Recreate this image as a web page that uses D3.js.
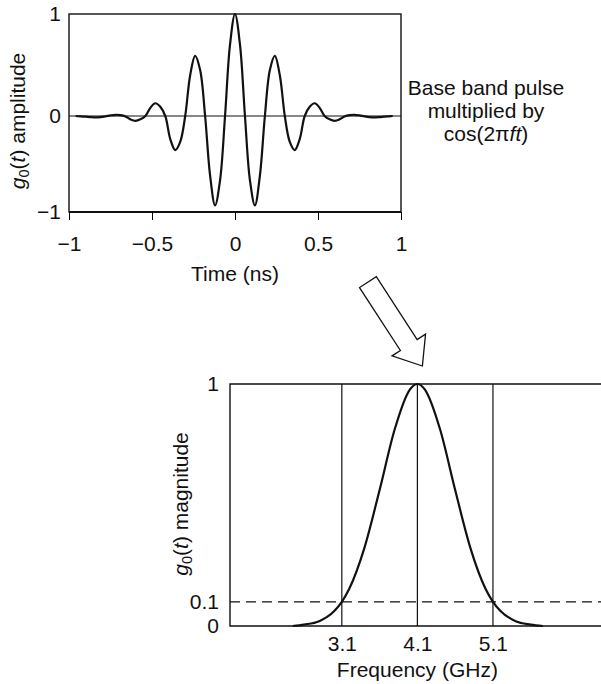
<!DOCTYPE html>
<html>
<head>
<meta charset="utf-8">
<script src="https://cdn.jsdelivr.net/npm/d3@7"></script>
<style>
    body { margin: 0; background: #fff; }
    svg text { font-family: "Liberation Sans", Arial, Helvetica, sans-serif; fill: #111; }
    .domain { display: none; }
</style>
</head>
<body>
<div id="chart"></div>
<script>
//Data
var timeNs = [-0.96, -0.93, -0.90, -0.87, -0.84, -0.81, -0.78, -0.75, -0.72, -0.69, -0.66, -0.63,
    -0.60, -0.57, -0.54, -0.51, -0.48, -0.45, -0.42, -0.39, -0.36, -0.33, -0.30, -0.27, -0.24,
    -0.21, -0.18, -0.15, -0.12, -0.09, -0.06, -0.03, 0, 0.03, 0.06, 0.09, 0.12, 0.15, 0.18, 0.21,
    0.24, 0.27, 0.30, 0.33, 0.36, 0.39, 0.42, 0.45, 0.48, 0.51, 0.54, 0.57, 0.60, 0.63, 0.66,
    0.69, 0.72, 0.75, 0.78, 0.81, 0.84, 0.87, 0.90, 0.93, 0.95];
var amplitude = [0, -0.003, -0.007, -0.012, -0.015, -0.012, -0.004, 0.006, 0.012, 0.008, -0.005, -0.035,
    -0.05, -0.035, 0, 0.08, 0.125, 0.09, 0, -0.24, -0.355, -0.27, 0, 0.40, 0.59,
    0.45, 0, -0.62, -0.93, -0.67, 0, 0.70, 1.00, 0.70, 0, -0.67, -0.93, -0.62, 0, 0.45,
    0.59, 0.40, 0, -0.27, -0.355, -0.24, 0, 0.09, 0.125, 0.08, 0, -0.035, -0.05, -0.035, -0.005,
    0.008, 0.012, 0.006, -0.004, -0.012, -0.015, -0.012, -0.007, -0.003, 0];

var freqGHz = [2.45, 2.6, 2.8, 3.0, 3.1, 3.2, 3.4, 3.6, 3.8, 4.0, 4.1, 4.2, 4.4, 4.6, 4.8, 5.0, 5.1, 5.2, 5.4, 5.6, 5.76];
var magnitude = [0, 0.006, 0.02, 0.062, 0.10, 0.155, 0.324, 0.562, 0.813, 0.977, 1.0, 0.977, 0.813, 0.562, 0.324, 0.155, 0.10, 0.062, 0.02, 0.006, 0];

var timeTicks = [-1, -0.5, 0, 0.5, 1];
var ampTicks = [-1, 0, 1];
var freqTicks = [3.1, 4.1, 5.1];
var magTicks = [0, 0.1, 1];

var svgWidth = 601;
var svgHeight = 684;
var fontSize = 21;

var svg = d3.select("#chart").append("svg")
    .attr("width", svgWidth)
    .attr("height", svgHeight);

var minusFmt = d => String(d).replace("-", "\u2212");

// ---------- Top chart: time domain pulse ----------
var topBox = { left: 69, right: 401, top: 14, bottom: 212 };

var xTime = d3.scaleLinear().domain([-1, 1]).range([topBox.left, topBox.right]);
// zero line sits a little below the middle of the frame
var yAmp = d3.scaleLinear().domain([-1, 0, 1]).range([topBox.bottom, 116, topBox.top]);

var topGroup = svg.append("g");

//frame
topGroup.append("rect")
    .attr("x", topBox.left)
    .attr("y", topBox.top)
    .attr("width", topBox.right - topBox.left)
    .attr("height", topBox.bottom - topBox.top)
    .attr("fill", "none")
    .attr("stroke", "#111")
    .attr("stroke-width", 1.4);

topGroup.append("line")
    .attr("x1", topBox.left).attr("x2", topBox.right)
    .attr("y1", topBox.bottom).attr("y2", topBox.bottom)
    .attr("stroke", "#111")
    .attr("stroke-width", 2);

//zero line
topGroup.append("line")
    .attr("x1", topBox.left).attr("x2", topBox.right)
    .attr("y1", yAmp(0)).attr("y2", yAmp(0))
    .attr("stroke", "#111")
    .attr("stroke-width", 1.1);

var xAxisTop = topGroup.append("g")
    .attr("transform", `translate(0, ${topBox.bottom})`)
    .call(d3.axisBottom(xTime).tickValues(timeTicks).tickFormat(minusFmt)
        .tickSizeInner(8).tickSizeOuter(0).tickPadding(16));

var yAxisTop = topGroup.append("g")
    .attr("transform", `translate(${topBox.left}, 0)`)
    .call(d3.axisLeft(yAmp).tickValues(ampTicks).tickFormat(minusFmt)
        .tickSize(0).tickPadding(8));

//pulse
var pulseLine = d3.line()
    .x((d, i) => xTime(timeNs[i]))
    .y(d => yAmp(d))
    .curve(d3.curveCatmullRom.alpha(0.5));

topGroup.append("path")
    .datum(amplitude)
    .attr("d", pulseLine)
    .attr("fill", "none")
    .attr("stroke", "#111")
    .attr("stroke-width", 2.2);

//axis titles
topGroup.append("text")
    .attr("x", xTime(0))
    .attr("y", 281)
    .attr("text-anchor", "middle")
    .text("Time (ns)");

var ampLabel = topGroup.append("text")
    .attr("transform", "translate(25, 121) rotate(-90)")
    .attr("text-anchor", "middle");
ampLabel.append("tspan").attr("font-style", "italic").text("g");
ampLabel.append("tspan").attr("font-size", fontSize * 0.7).attr("dy", 4).text("0");
ampLabel.append("tspan").attr("dy", -4).text("(");
ampLabel.append("tspan").attr("font-style", "italic").text("t");
ampLabel.append("tspan").text(") amplitude");

//side note
var note = svg.append("text")
    .attr("x", 486)
    .attr("y", 95)
    .attr("text-anchor", "middle");
note.append("tspan").attr("x", 486).text("Base band pulse");
note.append("tspan").attr("x", 486).attr("dy", 23).text("multiplied by");
var noteLine3 = note.append("tspan").attr("x", 486).attr("dy", 23);
noteLine3.append("tspan").text("cos(2\u03c0");
noteLine3.append("tspan").attr("font-style", "italic").text("ft");
noteLine3.append("tspan").text(")");

// ---------- Bottom chart: spectrum ----------
var botBox = { left: 230, right: 601, top: 384, bottom: 626 };

var xFreq = d3.scaleLinear().domain([1.62, 6.53]).range([botBox.left, botBox.right]);
var yMag = d3.scaleLinear().domain([0, 1]).range([botBox.bottom, botBox.top]);

var botGroup = svg.append("g");

//frame lines (open on the right)
botGroup.append("path")
    .attr("d", `M${botBox.right},${botBox.top}H${botBox.left}V${botBox.bottom}H${botBox.right}`)
    .attr("fill", "none")
    .attr("stroke", "#111")
    .attr("stroke-width", 1.4);

//vertical markers at the band edges and centre
botGroup.selectAll(".marker")
    .data(freqTicks)
    .enter()
    .append("line")
    .classed("marker", true)
    .attr("x1", d => xFreq(d)).attr("x2", d => xFreq(d))
    .attr("y1", botBox.top).attr("y2", botBox.bottom)
    .attr("stroke", "#111")
    .attr("stroke-width", 1.2);

//-10 dB level
botGroup.append("line")
    .attr("x1", botBox.left).attr("x2", botBox.right)
    .attr("y1", yMag(0.1)).attr("y2", yMag(0.1))
    .attr("stroke", "#111")
    .attr("stroke-width", 1.2)
    .attr("stroke-dasharray", "10,6");

var xAxisBot = botGroup.append("g")
    .attr("transform", `translate(0, ${botBox.bottom})`)
    .call(d3.axisBottom(xFreq).tickValues(freqTicks).tickFormat(d3.format(".1f"))
        .tickSize(0).tickPadding(10));

var yAxisBot = botGroup.append("g")
    .attr("transform", `translate(${botBox.left}, 0)`)
    .call(d3.axisLeft(yMag).tickValues(magTicks).tickFormat(d => String(d))
        .tickSize(0).tickPadding(11));

var specLine = d3.line()
    .x((d, i) => xFreq(freqGHz[i]))
    .y(d => yMag(d))
    .curve(d3.curveMonotoneX);

botGroup.append("path")
    .datum(magnitude)
    .attr("d", specLine)
    .attr("fill", "none")
    .attr("stroke", "#111")
    .attr("stroke-width", 2.2);

botGroup.append("text")
    .attr("x", xFreq(4.1))
    .attr("y", 677)
    .attr("text-anchor", "middle")
    .text("Frequency (GHz)");

var magLabel = botGroup.append("text")
    .attr("transform", "translate(188, 504) rotate(-90)")
    .attr("text-anchor", "middle");
magLabel.append("tspan").attr("font-style", "italic").text("g");
magLabel.append("tspan").attr("font-size", fontSize * 0.7).attr("dy", 4).text("0");
magLabel.append("tspan").attr("dy", -4).text("(");
magLabel.append("tspan").attr("font-style", "italic").text("t");
magLabel.append("tspan").text(") magnitude");

//all text the same size
svg.selectAll("text").attr("font-size", fontSize);
svg.selectAll(".tick text").attr("fill", "#111");

// ---------- Hollow arrow from the pulse to the spectrum ----------
var tipX = xFreq(4.1) + 5;
var tipY = botBox.top - 18;
var arrowPts = [[0, 0], [-25, 20], [-25, 10], [-100, 10], [-100, -10], [-25, -10], [-25, -20]];
svg.append("polygon")
    .attr("points", arrowPts.map(p => p.join(",")).join(" "))
    .attr("transform", `translate(${tipX}, ${tipY}) rotate(57)`)
    .attr("fill", "#fff")
    .attr("stroke", "#111")
    .attr("stroke-width", 1.3)
    .attr("stroke-linejoin", "miter");
</script>
</body>
</html>
